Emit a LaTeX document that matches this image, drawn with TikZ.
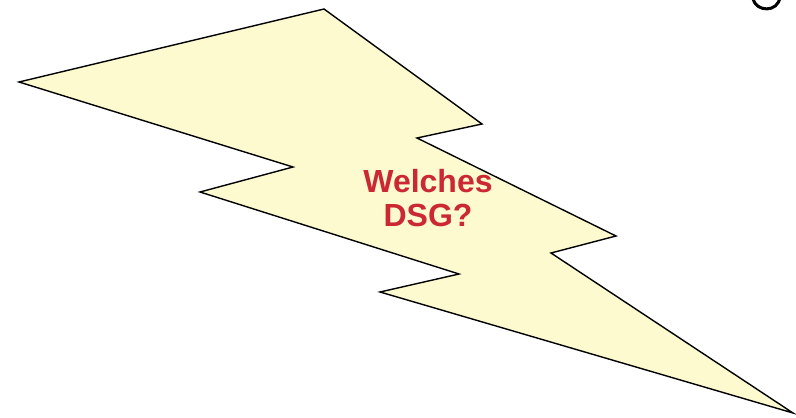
\documentclass[tikz,border=0pt]{standalone}
\usepackage{fontspec}
\setmainfont{Liberation Sans}
\definecolor{boltfill}{RGB}{252,250,206}
\definecolor{labelred}{RGB}{204,40,50}
\tikzset{
  bolt/.style={draw=black, fill=boltfill, line width=1.4pt, line join=miter},
  boltlabel/.style={text=labelred, font=\fontsize{32}{34}\selectfont\bfseries, align=center, inner sep=0pt}
}
\begin{document}
\begin{tikzpicture}[x=1pt,y=-1pt]
\useasboundingbox (0,0) rectangle (796,418);
\coordinate (p1) at (19,82);
\coordinate (p2) at (324,9);
\coordinate (p3) at (482,124);
\coordinate (p4) at (417,138);
\coordinate (p5) at (616,236);
\coordinate (p6) at (551,253);
\coordinate (p7) at (793,413);
\coordinate (p8) at (380,292);
\coordinate (p9) at (459,274);
\coordinate (p10) at (200,192);
\coordinate (p11) at (293,167);
\path[bolt] (p1) -- (p2) -- (p3) -- (p4) -- (p5) -- (p6) -- (p7) -- (p8) -- (p9) -- (p10) -- (p11) -- cycle;
\node[boltlabel] (lbl) at (428,198) {Welches\\DSG?};
\begin{scope}
\clip (0,0) rectangle (796,418);
\coordinate (g1) at (753,-1);
\coordinate (g2) at (780,-3);
\draw[line width=3pt] (g1) .. controls (756,12) and (778,13) .. (g2);
\end{scope}
\end{tikzpicture}
\end{document}
